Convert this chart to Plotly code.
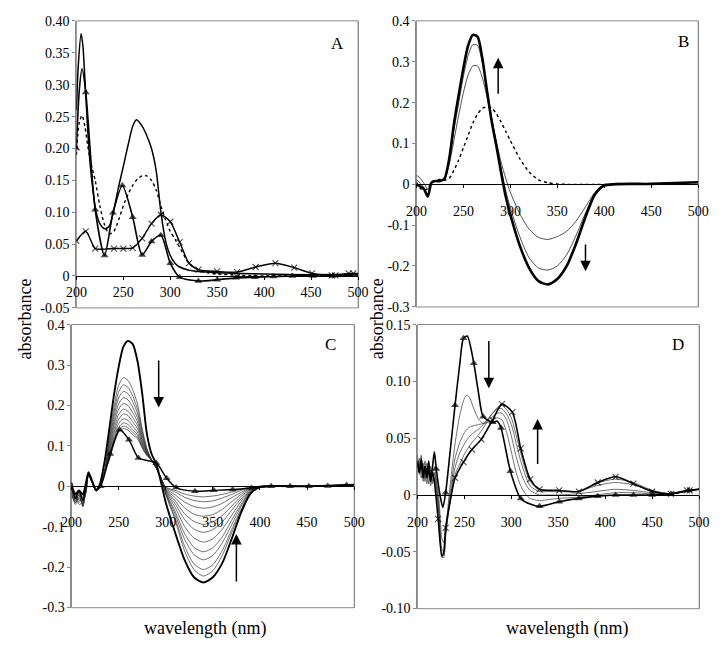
import plotly.graph_objects as go

FONT = "'Liberation Serif', 'Times New Roman', Times, serif"

# ---------------- Panel A ----------------
A_wl = [200, 202, 205, 207, 209, 212, 215, 218, 221, 225, 230, 235, 240, 245, 250, 255, 260, 264,
        270, 275, 280, 285, 290, 295, 300, 305, 310, 320, 330, 340, 350, 375, 400, 450, 500]
A_solid = [0.26, 0.33, 0.38, 0.36, 0.31, 0.23, 0.17, 0.13, 0.10, 0.082, 0.074, 0.078, 0.105, 0.14,
           0.172, 0.205, 0.235, 0.245, 0.235, 0.22, 0.2, 0.165, 0.1, 0.055, 0.032, 0.02, 0.014,
           0.009, 0.007, 0.006, 0.005, 0.004, 0.003, 0.002, 0.003]
A_dot_wl = [200, 203, 206, 209, 212, 215, 220, 225, 230, 235, 240, 245, 250, 255, 260, 265, 270,
            275, 280, 285, 290, 295, 300, 305, 310, 320, 330, 340, 350, 375, 400, 450, 500]
A_dot = [0.19, 0.24, 0.252, 0.235, 0.205, 0.18, 0.15, 0.11, 0.08, 0.066, 0.07, 0.088, 0.11, 0.128,
         0.142, 0.152, 0.157, 0.157, 0.15, 0.135, 0.11, 0.088, 0.07, 0.058, 0.045, 0.02, 0.009,
         0.005, 0.003, 0.001, 0.0, 0.0, 0.0]
A_tri_wl = [200, 203, 206, 210, 220, 230, 239, 249, 260, 270, 280, 290, 300, 310, 330, 350, 370,
            390, 410, 430, 452, 473, 500]
A_tri = [0.2, 0.29, 0.325, 0.288, 0.104, 0.032, 0.099, 0.142, 0.092, 0.033, 0.054, 0.064, 0.02,
         -0.002, -0.008, -0.006, -0.003, -0.002, -0.001, 0.0, 0.0, 0.0, 0.002]
A_tri_marked = [200, 210, 220, 230, 239, 249, 260, 270, 280, 290, 300, 310, 330, 350, 370, 390,
                410, 430, 452, 473]
A_x_wl = [200, 210, 220, 230, 240, 250, 260, 270, 280, 290, 300, 310, 320, 330, 350, 371, 391,
          412, 432, 451, 472, 476, 490, 495, 500]
A_x = [0.055, 0.070, 0.043, 0.042, 0.043, 0.043, 0.044, 0.059, 0.082, 0.096, 0.085, 0.053, 0.020,
       0.010, 0.007, 0.006, 0.014, 0.020, 0.013, 0.004, 0.001, 0.001, 0.004, 0.004, 0.004]
A_x_marked = [200, 210, 220, 240, 250, 260, 270, 280, 290, 300, 310, 320, 330, 350, 371, 391, 412,
              432, 451, 472, 476, 490, 495]

# ---------------- Panel B ----------------
B_wl = [200, 204, 208, 212, 216, 220, 225, 230, 235, 240, 245, 250, 255, 260, 265, 270, 275, 280,
        285, 290, 295, 300, 310, 320, 330, 340, 350, 360, 370, 380, 390, 400, 450, 500]
B_thick = [0.0, -0.005, -0.012, -0.03, 0.004, 0.008, 0.008, 0.015, 0.065, 0.15, 0.22, 0.285, 0.34,
           0.366, 0.362, 0.31, 0.23, 0.155, 0.095, 0.03, -0.03, -0.075, -0.15, -0.205, -0.237,
           -0.245, -0.232, -0.2, -0.145, -0.08, -0.025, -0.003, 0.001, 0.005]
B_thin1 = [0.012, 0.002, -0.008, -0.025, 0.004, 0.008, 0.008, 0.016, 0.06, 0.135, 0.2, 0.265,
           0.315, 0.342, 0.34, 0.3, 0.232, 0.165, 0.1, 0.04, -0.015, -0.058, -0.128, -0.18,
           -0.205, -0.21, -0.2, -0.172, -0.125, -0.07, -0.022, -0.003, 0.001, 0.005]
B_thin2 = [0.022, 0.015, 0.002, -0.012, 0.004, 0.008, 0.008, 0.016, 0.05, 0.11, 0.17, 0.225, 0.268,
           0.29, 0.29, 0.262, 0.215, 0.16, 0.105, 0.055, 0.015, -0.02, -0.072, -0.11, -0.13,
           -0.135, -0.128, -0.115, -0.09, -0.055, -0.02, -0.003, 0.001, 0.005]
B_dot = [0.005, -0.01, -0.015, -0.01, 0.006, 0.01, 0.012, 0.01, 0.015, 0.035, 0.06, 0.09, 0.12,
         0.15, 0.172, 0.186, 0.19, 0.187, 0.173, 0.153, 0.13, 0.107, 0.063, 0.03, 0.011, 0.004,
         0.001, 0.0, 0.0, 0.0, 0.0, 0.0, 0.0, 0.0]

# ---------------- Panel C ----------------
C_wl = [200, 204, 208, 212, 215, 218, 222, 226, 230, 235, 240, 245, 250, 255, 260, 265, 270, 275,
        280, 285, 290, 295, 300, 310, 320, 330, 340, 350, 360, 370, 380, 390, 400, 450, 500]
C_thick = [-0.005, -0.02, -0.01, -0.02, 0.005, 0.035, 0.012, -0.008, 0.005,
           0.06, 0.14, 0.225, 0.295, 0.345, 0.36, 0.352, 0.31, 0.23, 0.13, 0.08, 0.055, 0.01,
           -0.04, -0.115, -0.182, -0.225, -0.238, -0.225, -0.19, -0.13, -0.065, -0.018, -0.002,
           0.0, 0.004]
C_thin = [
    [-0.01, -0.035, -0.02, -0.045, -0.01, 0.03, 0.012, -0.01, 0.0,
     0.035, 0.121, 0.196, 0.250, 0.269, 0.262, 0.239, 0.204, 0.143, 0.094, 0.065, 0.045, 0.02,
     -0.020, -0.084, -0.160, -0.206, -0.222, -0.209, -0.171, -0.115, -0.060, -0.016, -0.002, 0.0, 0.003],
    [0.005, -0.025, -0.03, -0.04, -0.005, 0.032, 0.01, -0.012, -0.002,
     0.035, 0.113, 0.183, 0.233, 0.251, 0.245, 0.223, 0.191, 0.136, 0.091, 0.065, 0.045, 0.02,
     -0.019, -0.078, -0.148, -0.192, -0.206, -0.194, -0.159, -0.107, -0.056, -0.014, -0.002, 0.0, 0.003],
    [-0.02, -0.04, -0.015, -0.05, -0.015, 0.028, 0.008, -0.01, 0.0,
     0.035, 0.106, 0.172, 0.219, 0.235, 0.229, 0.209, 0.181, 0.130, 0.089, 0.065, 0.045, 0.02,
     -0.016, -0.069, -0.131, -0.169, -0.182, -0.171, -0.140, -0.095, -0.049, -0.013, -0.002, 0.0, 0.003],
    [0.0, -0.015, -0.035, -0.03, 0.0, 0.033, 0.012, -0.008, 0.002,
     0.035, 0.099, 0.160, 0.204, 0.219, 0.214, 0.195, 0.170, 0.124, 0.087, 0.065, 0.045, 0.02,
     -0.015, -0.062, -0.117, -0.151, -0.162, -0.152, -0.125, -0.084, -0.044, -0.011, -0.002, 0.0, 0.003],
    [-0.015, -0.045, -0.025, -0.035, -0.02, 0.027, 0.01, -0.012, 0.0,
     0.035, 0.092, 0.150, 0.191, 0.205, 0.200, 0.182, 0.160, 0.118, 0.085, 0.065, 0.045, 0.02,
     -0.012, -0.052, -0.099, -0.128, -0.138, -0.130, -0.106, -0.072, -0.037, -0.010, -0.001, 0.0, 0.003],
    [0.01, -0.02, -0.04, -0.025, -0.008, 0.031, 0.011, -0.009, 0.001,
     0.035, 0.086, 0.139, 0.178, 0.191, 0.186, 0.170, 0.151, 0.113, 0.083, 0.065, 0.045, 0.02,
     -0.010, -0.043, -0.082, -0.106, -0.114, -0.107, -0.088, -0.059, -0.031, -0.008, -0.001, 0.0, 0.003],
    [-0.025, -0.03, -0.01, -0.05, -0.012, 0.029, 0.009, -0.011, 0.0,
     0.035, 0.081, 0.131, 0.166, 0.179, 0.175, 0.159, 0.143, 0.108, 0.081, 0.065, 0.045, 0.02,
     -0.008, -0.036, -0.068, -0.087, -0.094, -0.088, -0.072, -0.049, -0.025, -0.007, -0.001, 0.0, 0.003],
    [0.0, -0.04, -0.03, -0.02, -0.018, 0.03, 0.012, -0.01, 0.0,
     0.035, 0.075, 0.122, 0.155, 0.167, 0.163, 0.149, 0.134, 0.104, 0.079, 0.065, 0.045, 0.02,
     -0.007, -0.028, -0.053, -0.069, -0.074, -0.070, -0.057, -0.038, -0.020, -0.005, -0.001, 0.0, 0.003],
    [-0.012, -0.022, -0.045, -0.038, -0.006, 0.028, 0.01, -0.012, 0.0,
     0.035, 0.071, 0.115, 0.146, 0.157, 0.153, 0.140, 0.127, 0.100, 0.078, 0.065, 0.045, 0.02,
     -0.005, -0.021, -0.039, -0.050, -0.054, -0.051, -0.042, -0.028, -0.015, -0.004, 0.0, 0.0, 0.003],
    [0.008, -0.035, -0.02, -0.048, -0.01, 0.032, 0.011, -0.01, 0.0,
     0.035, 0.067, 0.109, 0.139, 0.149, 0.145, 0.133, 0.122, 0.097, 0.077, 0.065, 0.045, 0.02,
     -0.003, -0.014, -0.027, -0.035, -0.038, -0.036, -0.029, -0.020, -0.010, -0.003, 0.0, 0.0, 0.003],
    [-0.018, -0.028, -0.012, -0.03, -0.016, 0.03, 0.01, -0.011, 0.0,
     0.035, 0.064, 0.104, 0.133, 0.143, 0.139, 0.127, 0.118, 0.095, 0.076, 0.065, 0.045, 0.02,
     -0.002, -0.010, -0.019, -0.024, -0.026, -0.024, -0.020, -0.014, -0.007, -0.002, 0.0, 0.0, 0.003],
]
C_tri_wl = [200, 204, 208, 212, 215, 218, 222, 226, 231, 241, 251, 261, 271, 280, 290, 301, 311,
            331, 351, 371, 391, 412, 432, 452, 472, 492, 500]
C_tri = [0.01, -0.03, -0.01, -0.035, 0.0, 0.03, 0.01, -0.01, 0.0, 0.08, 0.14, 0.115, 0.07, 0.064,
         0.058, 0.02, -0.003, -0.012, -0.01, -0.008, -0.004, 0.0, 0.0, 0.0, 0.001, 0.003, 0.004]
C_tri_marked = [231, 241, 251, 261, 271, 290, 301, 311, 331, 351, 371, 391, 412, 432, 452, 472, 492]

# ---------------- Panel D ----------------
D_wl = [200, 202, 204, 206, 208, 210, 212, 214, 216, 218, 220, 223, 226, 228, 230, 235, 240, 245,
        250, 253, 256, 260, 265, 270, 275, 280, 285, 290, 295, 300, 305, 310, 315, 320, 330, 340,
        350, 370, 390, 410, 430, 450, 470, 490, 500]
D_thin = [
    [0.03, 0.018, 0.027, 0.012, 0.022, 0.01, 0.02, 0.008, 0.018, 0.025,
     0.015, -0.005, -0.038, -0.042, -0.03,
     0.01, 0.045, 0.07, 0.085, 0.088, 0.085, 0.076, 0.067, 0.063, 0.064, 0.066, 0.068, 0.066,
     0.055, 0.038, 0.02, 0.008, 0.001, -0.003,
     -0.005, -0.004, -0.003, -0.002, 0.0, 0.002, 0.002, 0.001, 0.001, 0.004, 0.005],
    [0.025, 0.032, 0.015, 0.028, 0.012, 0.024, 0.01, 0.022, 0.012, 0.02,
     0.012, -0.012, -0.048, -0.05, -0.034,
     0.003, 0.032, 0.046, 0.055, 0.058, 0.06, 0.061, 0.062, 0.063, 0.066, 0.069, 0.072, 0.072,
     0.066, 0.052, 0.034, 0.02, 0.01, 0.004,
     0.0, 0.0, 0.0, 0.001, 0.003, 0.005, 0.004, 0.002, 0.001, 0.004, 0.005],
    [0.02, 0.026, 0.035, 0.018, 0.03, 0.015, 0.026, 0.012, 0.02, 0.018,
     0.008, -0.018, -0.052, -0.053, -0.036,
     -0.002, 0.024, 0.037, 0.045, 0.049, 0.052, 0.055, 0.058, 0.062, 0.067, 0.072, 0.076, 0.076,
     0.071, 0.062, 0.046, 0.03, 0.017, 0.008,
     0.003, 0.003, 0.003, 0.003, 0.008, 0.011, 0.009, 0.004, 0.001, 0.004, 0.005],
    [0.035, 0.022, 0.03, 0.025, 0.015, 0.028, 0.018, 0.025, 0.01, 0.015,
     0.005, -0.02, -0.055, -0.055, -0.035,
     -0.004, 0.018, 0.027, 0.036, 0.04, 0.044, 0.048, 0.053, 0.059, 0.066, 0.072, 0.077, 0.079,
     0.075, 0.068, 0.053, 0.037, 0.022, 0.012,
     0.004, 0.004, 0.004, 0.003, 0.01, 0.014, 0.011, 0.004, 0.001, 0.004, 0.005],
]
D_tri_wl = [200, 202, 204, 206, 208, 210, 212, 214, 216, 218, 220, 224, 227, 230, 235, 240, 245,
            249, 253, 260, 265, 270, 280, 285, 289, 299, 310, 320, 330, 351, 372, 392, 411, 430,
            450, 470, 489, 500]
D_tri = [0.03, 0.02, 0.028, 0.018, 0.025, 0.015, 0.022, 0.015, 0.025, 0.038,
         0.023, 0.0, -0.011, 0.002, 0.04, 0.079, 0.115, 0.138, 0.14, 0.116, 0.09, 0.069, 0.064,
         0.065, 0.059, 0.021, -0.003, -0.008, -0.01, -0.006, -0.003, -0.001, 0.0, 0.0, 0.0, 0.001,
         0.004, 0.005]
D_tri_marked = [220, 230, 240, 249, 260, 270, 280, 289, 299, 310, 330, 351, 372, 392, 411, 430,
                450, 470, 489]
D_x_wl = [200, 202, 204, 206, 208, 210, 212, 214, 216, 218, 222, 226, 228, 230, 235, 240, 249, 258,
          268, 280, 290, 301, 310, 320, 330, 351, 372, 392, 411, 430, 450, 470, 487, 490, 500]
D_x = [0.028, 0.02, 0.032, 0.015, 0.025, 0.018, 0.03, 0.012, 0.02, 0.012,
       -0.021, -0.054, -0.05, -0.029, -0.005, 0.015, 0.029, 0.04, 0.049, 0.066, 0.08, 0.073,
       0.041, 0.014, 0.005, 0.004, 0.003, 0.011, 0.016, 0.010, 0.003, 0.001, 0.004, 0.004, 0.005]
D_x_marked = [222, 230, 240, 249, 258, 268, 280, 290, 301, 310, 320, 330, 351, 372, 392, 411, 430,
              450, 470, 487, 490]

X_TICKS = [200, 250, 300, 350, 400, 450, 500]

fig = go.Figure()


def add_line(x, y, n, width=1.0, dash="solid", color="black", marked=None, symbol=None, msize=7):
    xa = "x" if n == 1 else "x%d" % n
    ya = "y" if n == 1 else "y%d" % n
    kw = {}
    mode = "lines"
    if marked is not None:
        mode = "lines+markers"
        sizes = [msize if w in marked else 0 for w in x]
        if symbol == "triangle-up":
            kw["marker"] = dict(symbol=symbol, size=sizes, color=color, line=dict(width=0))
        else:
            kw["marker"] = dict(symbol=symbol, size=sizes, color=color,
                                line=dict(color=color, width=1.1))
    fig.add_trace(go.Scatter(x=x, y=y, xaxis=xa, yaxis=ya, mode=mode,
                             line=dict(color=color, width=width, dash=dash,
                                       shape="spline", smoothing=0.7),
                             showlegend=False, hoverinfo="skip", **kw))


# Panel A
add_line(A_dot_wl, A_dot, 1, width=1.4, dash="dot")
add_line(A_wl, A_solid, 1, width=1.5)
add_line(A_x_wl, A_x, 1, width=1.4, marked=A_x_marked, symbol="x-thin-open", msize=6)
add_line(A_tri_wl, A_tri, 1, width=1.6, marked=A_tri_marked, symbol="triangle-up", msize=7)

# Panel B
add_line(B_wl, B_dot, 2, width=1.4, dash="dot")
add_line(B_wl, B_thin2, 2, width=0.8, color="#222")
add_line(B_wl, B_thin1, 2, width=0.8, color="#222")
add_line(B_wl, B_thick, 2, width=2.6)

# Panel C
for c in C_thin:
    add_line(C_wl, c, 3, width=0.7, color="#333")
add_line(C_wl, C_thick, 3, width=1.9)
add_line(C_tri_wl, C_tri, 3, width=1.4, marked=C_tri_marked, symbol="triangle-up", msize=7)

# Panel D
for c in D_thin:
    add_line(D_wl, c, 4, width=0.7, color="#333")
add_line(D_x_wl, D_x, 4, width=1.6, marked=D_x_marked, symbol="x-thin-open", msize=6)
add_line(D_tri_wl, D_tri, 4, width=1.6, marked=D_tri_marked, symbol="triangle-up", msize=7)

# page is 724 x 653; the browser page keeps its default 8 px body margin,
# so the figure itself is 708 x 637 and screen coordinates are shifted by 8 px
PW, PH = 724, 653
OFF = 8
W, H = PW - 2 * OFF, PH - 2 * OFF


def fx(px):
    return (px - OFF) / W


def fy(py):
    return 1 - (py - OFF) / H


panels = [
    dict(n=1, px=(68, 358), py=(14, 308), yr=(-0.05, 0.40),
         tv=[-0.05, 0, 0.05, 0.10, 0.15, 0.20, 0.25, 0.30, 0.35, 0.40],
         tt=["-0.05", "0", "0.05", "0.10", "0.15", "0.20", "0.25", "0.30", "0.35", "0.40"], so=0),
    dict(n=2, px=(418, 708), py=(14, 307), yr=(-0.3, 0.4),
         tv=[-0.3, -0.2, -0.1, 0, 0.1, 0.2, 0.3, 0.4],
         tt=["-0.3", "-0.2", "-0.1", "0", "0.1", "0.2", "0.3", "0.4"], so=11),
    dict(n=3, px=(63, 354), py=(325, 615), yr=(-0.3, 0.4),
         tv=[-0.3, -0.2, -0.1, 0, 0.1, 0.2, 0.3, 0.4],
         tt=["-0.3", "-0.2", "-0.1", "0", "0.1", "0.2", "0.3", "0.4"], so=20),
    dict(n=4, px=(419, 709), py=(325, 616), yr=(-0.10, 0.15),
         tv=[-0.10, -0.05, 0, 0.05, 0.10, 0.15],
         tt=["-0.10", "-0.05", "0", "0.05", "0.10", "0.15"], so=11),
]

layout = dict(width=W, height=H, margin=dict(l=0, r=0, t=0, b=0),
              paper_bgcolor="white", plot_bgcolor="white",
              font=dict(family=FONT, size=13, color="black"), shapes=[], annotations=[])

for p in panels:
    n = p["n"]
    xk = "xaxis" if n == 1 else "xaxis%d" % n
    yk = "yaxis" if n == 1 else "yaxis%d" % n
    xdom = [fx(p["px"][0]), fx(p["px"][1])]
    ydom = [fy(p["py"][1]), fy(p["py"][0])]
    y0, y1 = p["yr"]
    pad = (y1 - y0) * 0.0005
    zero_pos = ydom[0] + (0 - y0) / (y1 - y0) * (ydom[1] - ydom[0])
    layout[xk] = dict(domain=xdom, range=[199.9, 500.1], anchor="free", position=zero_pos,
                      tickvals=X_TICKS, ticks="outside", ticklen=3, tickcolor="black",
                      showline=True, linecolor="black", linewidth=1, showgrid=False,
                      zeroline=False, tickfont=dict(family=FONT, size=14),
                      ticklabelstandoff=p["so"], fixedrange=True)
    layout[yk] = dict(domain=ydom, range=[y0 - pad, y1 + pad], anchor="x" if n == 1 else "x%d" % n,
                      tickvals=p["tv"], ticktext=p["tt"], ticks="outside", ticklen=3,
                      tickcolor="#888", showline=True, linecolor="#888", linewidth=1,
                      mirror=True, showgrid=False, zeroline=False,
                      tickfont=dict(family=FONT, size=14), fixedrange=True)
    sx = "x" if n == 1 else "x%d" % n
    sy = "y" if n == 1 else "y%d" % n
    layout["shapes"].append(dict(type="rect", xref=sx + " domain", yref=sy + " domain",
                                 x0=0, x1=1, y0=0, y1=1, line=dict(color="#888", width=1),
                                 layer="below"))

fig.update_layout(**layout)

# Panel letters
for letter, (lx, ly) in zip("ABCD", [(337, 37), (693, 35), (330, 345), (687, 345)]):
    fig.add_annotation(x=fx(lx), y=fy(ly), xref="paper", yref="paper", text=letter,
                       showarrow=False, font=dict(family=FONT, size=17), xanchor="center",
                       yanchor="middle")

# Axis titles
for ax_x in (15, 377):
    fig.add_annotation(x=fx(ax_x), y=fy(319), xref="paper", yref="paper", text="absorbance",
                       textangle=-90, showarrow=False, font=dict(family=FONT, size=18),
                       xanchor="center", yanchor="middle")
for tx in (200, 573):
    fig.add_annotation(x=fx(tx), y=fy(636), xref="paper", yref="paper",
                       text="wavelength (nm)", showarrow=False, font=dict(family=FONT, size=18),
                       xanchor="center", yanchor="middle")

# Arrows (head, tail) in data coordinates
arrows = [
    (2, 287, 0.31, 287, 0.218),
    (2, 380, -0.213, 380, -0.144),
    (3, 292.5, 0.195, 292.5, 0.315),
    (3, 375, -0.118, 375, -0.239),
    (4, 276, 0.094, 276, 0.137),
    (4, 328, 0.067, 328, 0.026),
]
for n, hx, hy, tx_, ty in arrows:
    sx = "x%d" % n
    sy = "y%d" % n
    fig.add_annotation(x=hx, y=hy, ax=tx_, ay=ty, xref=sx, yref=sy, axref=sx, ayref=sy,
                       text="", showarrow=True, arrowhead=2, arrowsize=1.4, arrowwidth=1.5,
                       arrowcolor="black")

fig.write_html("out.html", config={"displayModeBar": False})
